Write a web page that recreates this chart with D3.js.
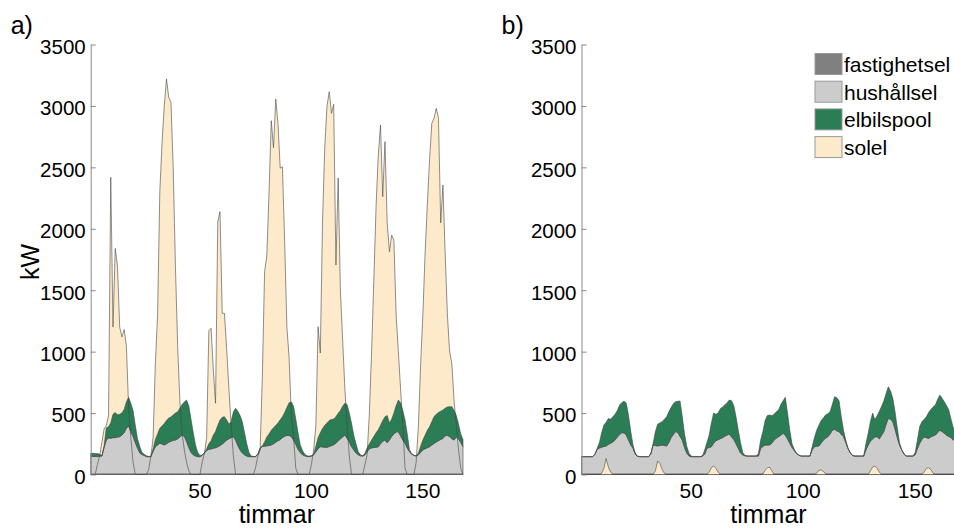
<!DOCTYPE html>
<html>
<head>
<meta charset="utf-8">
<script src="https://cdnjs.cloudflare.com/ajax/libs/d3/7.8.5/d3.min.js"></script>
<style>
  body { margin: 0; background: #fff; }
  text { font-family: "Liberation Sans", Arial, Helvetica, sans-serif; fill: #000; }
</style>
</head>
<body>
<svg id="chart" width="954" height="530"></svg>
<script>
// timmar 1..168 (one week, hourly)
var hours = d3.range(1, 169);

// fastighetsel, shared by both panels (kW)
var fastighetsel = [
  5,5,5,5,5,5,5,5,5,5,5,5,5,5,5,5,5,5,5,5,5,5,5,5,
  5,5,5,5,5,5,5,5,5,5,5,5,5,5,5,5,5,5,5,5,5,5,5,5,
  5,5,5,5,5,5,5,5,5,5,5,5,5,5,5,5,5,5,5,5,5,5,5,5,
  5,5,5,5,5,5,5,5,5,5,5,5,5,5,5,5,5,5,5,5,5,5,5,5,
  5,5,5,5,5,5,5,5,5,5,5,5,5,5,5,5,5,5,5,5,5,5,5,5,
  5,5,5,5,5,5,5,5,5,5,5,5,5,5,5,5,5,5,5,5,5,5,5,5,
  5,5,5,5,5,5,5,5,5,5,5,5,5,5,5,5,5,5,5,5,5,5,5,5
];

// panel a)
var hushallselA = [
  143,142,141,141,143,145,215,276,292,290,295,295,300,303,316,335,371,390,344,305,255,210,170,157,
  150,140,140,140,185,221,235,249,243,235,245,257,265,273,276,285,300,316,305,265,215,175,155,145,
  140,140,150,170,190,200,203,208,213,220,230,243,257,276,285,295,303,275,230,195,170,155,145,140,
  140,140,140,160,205,223,225,228,231,235,245,257,270,278,295,307,313,313,303,275,240,200,175,155,
  147,142,140,145,155,180,205,221,219,217,216,223,230,237,250,267,285,300,316,290,260,221,195,170,
  155,147,145,154,180,205,211,215,217,220,245,265,276,253,275,305,325,340,344,310,275,249,210,180,
  160,150,145,155,175,195,205,213,221,235,247,260,270,280,289,310,313,303,285,276,300,285,255,221
];
var elbilspoolA = [
  24,25,24,24,17,2,10,99,91,125,190,205,181,182,179,190,214,233,231,210,140,75,55,18,
  10,7,3,2,20,59,90,122,147,175,190,198,198,207,219,220,235,249,280,336,340,270,180,90,
  35,10,3,3,15,45,67,107,132,175,209,217,208,163,120,130,202,259,280,280,255,180,100,35,
  5,2,2,5,5,7,35,72,94,120,130,136,145,162,170,193,227,267,282,275,205,135,60,35,
  13,5,5,2,5,45,90,114,151,178,199,212,213,210,215,226,230,250,259,275,235,191,120,75,
  26,8,2,13,30,40,64,90,118,140,150,170,189,222,140,140,170,215,257,270,240,190,115,15,
  5,0,2,15,50,80,110,142,163,190,218,225,230,230,231,225,232,244,262,239,175,120,70,59
];
var solelA = [
  0,0,0,80,150,260,370,400,480,2420,1200,1840,1700,1200,1120,1180,1050,550,300,100,0,0,0,0,
  0,0,40,150,300,900,1300,2300,2700,3000,3220,3070,3030,2500,1700,1050,600,330,200,100,30,0,0,0,
  0,0,100,170,300,1170,1190,850,580,2058,2140,1312,1312,1013,700,400,150,0,0,0,0,0,0,0,
  0,0,60,150,200,800,1650,1780,2300,2880,2660,3056,2860,2494,2505,1900,1200,950,480,300,50,0,0,0,
  0,0,0,80,200,400,1203,989,2071,2668,3000,3116,2940,3013,1705,2413,1500,1100,700,400,150,0,0,0,
  0,0,0,80,160,500,1000,1583,2180,2600,2845,2261,2709,2047,1813,1949,1908,1300,1000,700,400,50,0,0,
  0,0,100,400,900,1300,1800,2200,2560,2858,2900,2980,2900,2047,2356,1800,1300,1000,900,600,400,200,50,0
];

// panel b)
var hushallselB = [
  140,140,140,140,140,140,160,200,210,217,223,227,240,249,260,275,300,320,335,333,315,276,235,208,
  160,142,140,140,140,140,140,165,235,231,227,231,235,231,227,255,295,320,344,337,305,276,215,170,
  145,140,140,140,140,140,145,160,208,215,221,250,270,278,287,295,307,316,325,300,280,245,208,170,
  154,147,145,145,145,145,145,145,208,223,235,235,235,250,276,290,303,315,330,315,285,249,215,190,
  165,154,145,145,145,145,145,195,221,225,227,250,276,290,303,325,355,363,350,344,320,303,255,205,
  170,150,145,145,145,145,145,195,235,265,285,300,303,285,315,344,405,452,445,425,365,295,235,195,
  160,145,145,145,145,155,205,249,280,300,295,289,300,310,316,335,355,345,330,315,305,295,276,265
];
var elbilspoolB = [
  0,0,0,0,0,0,0,8,45,118,175,193,210,196,205,210,215,240,245,260,260,199,110,27,
  10,3,0,0,0,0,0,5,14,114,178,184,190,214,238,250,245,250,244,254,288,189,110,55,
  22,5,0,0,0,0,0,35,47,100,194,245,215,217,243,250,254,264,276,295,275,220,147,85,
  21,3,0,0,0,0,0,20,67,122,200,240,244,223,209,215,217,250,265,308,210,106,30,10,
  5,0,0,0,0,0,0,26,74,130,168,185,179,189,187,181,210,265,270,251,145,52,21,5,
  5,0,0,0,0,0,0,50,95,160,210,140,170,225,235,250,250,258,230,190,140,80,20,0,
  5,0,0,0,0,20,70,135,145,145,170,211,225,235,245,270,287,270,258,240,215,150,99,92
];
var solelB = [
  0,0,0,0,0,0,0,0,0,10,50,130,60,20,0,0,0,0,0,0,0,0,0,0,
  0,0,0,0,0,0,0,0,0,30,110,90,40,10,0,0,0,0,0,0,0,0,0,0,
  0,0,0,0,0,0,0,0,0,20,55,69,50,20,0,0,0,0,0,0,0,0,0,0,
  0,0,0,0,0,0,0,0,0,5,35,55,59,30,0,0,0,0,0,0,0,0,0,0,
  0,0,0,0,0,0,0,0,0,10,35,37,25,5,0,0,0,0,0,0,0,0,0,0,
  0,0,0,0,0,0,0,0,0,30,60,69,50,20,0,0,0,0,0,0,0,0,0,0,
  0,0,0,0,0,0,0,0,0,20,50,55,40,10,0,0,0,0,0,0,0,0,0,0
];

var yTicks = [0, 500, 1000, 1500, 2000, 2500, 3000, 3500];
var xTicks = [50, 100, 150];
var seriesNames = ["fastighetsel", "hushållsel", "elbilspool", "solel"];
var seriesColors = ["#808080", "#cccccc", "#2a7d55", "#fdeacb"];

var svg = d3.select("#chart");
var edge = "#444";

function drawPanel(x0, x1, letter, hus, el, sol, solBehind) {
  var x = d3.scaleLinear().domain([1, 168]).range([x0, x1]);
  var y = d3.scaleLinear().domain([0, 3500]).range([474.5, 44.5]);
  var g = svg.append("g");

  var rows = hours.map(function(h, i) {
    return { h: h, fast: fastighetsel[i], hus: hus[i], el: el[i], sol: sol[i] };
  });
  var stacked = d3.stack().keys(["fast", "hus", "el"])(rows);

  var area = d3.area()
    .x(function(d) { return x(d.data.h); })
    .y0(function(d) { return y(d[0]); })
    .y1(function(d) { return y(d[1]); });
  var solArea = d3.area()
    .x(function(d) { return x(d.h); })
    .y0(y(0))
    .y1(function(d) { return y(d.sol); });
  var solLine = d3.line()
    .x(function(d) { return x(d.h); })
    .y(function(d) { return y(d.sol); });

  // a) solel sits behind the load stack, its outline on top; b) solel on top
  if (solBehind) {
    g.append("path").attr("d", solArea(rows))
      .attr("fill", seriesColors[3]).attr("stroke", "none");
  }
  g.selectAll("path.layer").data(stacked).enter().append("path")
    .attr("class", "layer")
    .attr("d", area)
    .attr("fill", function(d, i) { return seriesColors[i]; })
    .attr("stroke", edge).attr("stroke-width", 0.6);
  if (solBehind) {
    g.append("path").attr("d", solLine(rows))
      .attr("fill", "none").attr("stroke", edge).attr("stroke-width", 0.6);
  } else {
    g.append("path").attr("d", solArea(rows))
      .attr("fill", seriesColors[3]).attr("stroke", edge).attr("stroke-width", 0.6);
  }

  // y axis
  var yAxisG = g.append("g").attr("transform", "translate(" + x0 + ",0)")
    .call(d3.axisLeft(y).tickValues(yTicks).tickFormat(d3.format("d"))
      .tickSize(-5).tickSizeOuter(0).tickPadding(5));
  yAxisG.select(".domain").attr("stroke", "#888").attr("stroke-width", 1);
  yAxisG.selectAll(".tick line").attr("stroke", "#888");
  yAxisG.selectAll(".tick text")
    .attr("fill", "#000").attr("dy", "0.43em")
    .style("font-size", "20.5px").style("font-family", "'Liberation Sans', Arial, sans-serif");

  // x tick labels
  g.selectAll("text.xtick").data(xTicks).enter().append("text")
    .attr("class", "xtick")
    .attr("x", function(d) { return x(d); })
    .attr("y", 498)
    .attr("text-anchor", "middle")
    .style("font-size", "21px")
    .text(function(d) { return d; });

  g.append("text")
    .attr("x", (x0 + x1) / 2).attr("y", 523)
    .attr("text-anchor", "middle")
    .style("font-size", "25px")
    .text("timmar");

  g.append("text")
    .attr("x", x0 - 80).attr("y", 34)
    .style("font-size", "25px")
    .text(letter);
  return y;
}

drawPanel(90.7, 463, "a)", hushallselA, elbilspoolA, solelA, true);
drawPanel(581.5, 955.5, "b)", hushallselB, elbilspoolB, solelB, false);

svg.append("text")
  .attr("transform", "translate(39,262) rotate(-90)")
  .attr("text-anchor", "middle")
  .style("font-size", "25px")
  .text("kW");

// legend
var legend = svg.append("g").attr("transform", "translate(815,53.5)");
var item = legend.selectAll("g").data(seriesNames).enter().append("g")
  .attr("transform", function(d, i) { return "translate(0," + (i * 27.7) + ")"; });
item.append("rect")
  .attr("width", 27).attr("height", 21)
  .attr("fill", function(d, i) { return seriesColors[i]; })
  .attr("stroke", "#999").attr("stroke-width", 1);
item.append("text")
  .attr("x", 29).attr("y", 18.5)
  .style("font-size", "21px")
  .text(function(d) { return d; });
</script>
</body>
</html>
